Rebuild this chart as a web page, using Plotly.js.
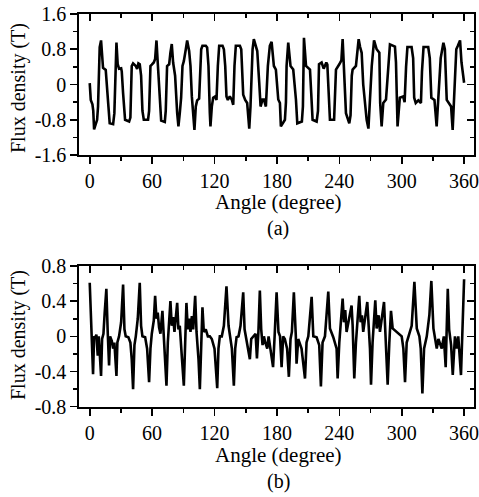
<!DOCTYPE html>
<html>
<head>
<meta charset="utf-8">
<script src="https://cdn.plot.ly/plotly-3.0.1.min.js"></script>
<style>html,body{margin:0;padding:0;background:#fff;}#chart{width:479px;height:497px;}</style>
</head>
<body>
<div id="chart"></div>
<script>
// ---- data ----
var angleA = [0,1.0,2.6,3.4,4.2,5.5,7.1,8.0,8.7,9.6,10.9,12.2,12.8,15.4,16.7,18.0,19.2,22.5,23.7,24.7,25.7,26.9,28.2,30.2,30.8,32.1,34.0,37.9,39.1,40.4,41.7,44.3,45.6,46.8,48.1,49.4,50.7,52.0,56.1,57.1,58.4,59.7,61.6,62.9,64.2,65.4,67.4,68.7,72.2,73.1,74.4,76.4,77.6,78.9,80.2,82.1,84.1,85.3,86.6,87.9,89.2,90.5,92.4,93.7,95.6,96.9,98.2,99.5,100.7,102.0,103.3,105.2,107.2,108.4,111.6,112.9,114.2,115.5,116.1,117.4,118.7,120.6,121.9,123.2,124.5,127.7,129.0,130.3,131.5,132.8,134.7,136.7,138.0,139.2,140.5,144.4,145.7,147.6,149.5,151.4,153.4,154.6,156.6,157.8,159.8,161.1,163.0,164.3,166.2,167.5,169.4,171.3,173.2,174.9,177.1,179.0,181.3,182.9,183.8,186.0,187.7,188.7,189.3,190.9,193.1,195.7,197.0,198.3,199.6,204.0,205.0,206.0,208.0,209.5,211.8,213.0,214.3,218.2,219.5,220.5,223.0,225.0,227.5,228.5,230.0,231.0,235.0,235.8,236.8,240.0,242.0,243.2,244.5,246.4,249.6,250.8,252.0,252.8,256.0,257.5,258.6,260.0,261.5,263.0,264.7,266.3,268.0,269.6,271.2,273.4,275.9,278.5,279.3,280.7,282.3,284.9,287.1,288.7,293.5,294.5,296.0,298.2,301.4,302.8,304.2,305.5,309.5,311.0,312.0,313.5,316.0,318.5,319.5,321.0,325.5,327.0,328.5,331.5,333.6,335.0,337.5,340.1,341.5,343.3,345.0,347.5,349.0,350.5,352.5,354.0,356.1,357.5,360];
var fluxA = [0.03,-0.35,-0.45,-0.6,-1.02,-0.92,-0.8,-0.5,0.4,0.85,1.0,0.65,0.38,0.33,0.0,-0.5,-0.88,-0.9,-0.65,0.55,0.95,0.46,0.36,0.37,0.3,-0.2,-0.8,-0.84,-0.75,0.42,0.48,0.42,0.35,0.48,0.46,0.2,-0.6,-0.8,-0.8,-0.6,0.42,0.45,0.5,0.58,1.0,0.5,-0.35,-0.82,-0.85,-0.6,0.42,0.46,0.72,0.92,0.5,0.2,-0.65,-0.95,-0.65,-0.3,0.42,0.53,0.8,1.0,0.76,0.42,-0.27,-0.8,-1.03,-0.5,-0.36,-0.32,0.8,0.88,0.88,0.84,0.42,-0.65,-0.95,-0.5,-0.3,-0.27,-0.35,0.42,0.88,0.88,0.8,0.42,-0.27,-0.35,-0.27,-0.35,-0.46,0.42,0.88,0.88,0.8,-0.23,-0.35,-0.42,-1.0,-0.5,0.8,1.03,0.88,0.76,0.04,-0.5,-0.34,-0.34,-0.5,0.42,0.88,0.97,0.42,0.34,-0.34,-0.42,-0.95,-0.88,-0.8,-0.4,0.42,0.95,0.42,0.34,0.0,-0.34,-0.88,-0.84,-0.5,1.06,0.42,0.38,0.34,-0.2,-0.8,-0.84,-0.6,0.46,0.5,0.36,0.5,0.45,-0.3,-0.8,-0.8,-0.3,0.34,0.46,0.55,1.03,0.4,-0.65,-0.88,-0.7,0.2,0.34,0.42,0.7,1.03,0.85,0.72,0.0,-0.42,-0.8,-1.0,-0.3,0.42,1.0,0.8,0.72,-0.42,-0.95,-0.42,-0.34,0.42,0.91,0.86,0.5,-0.95,-0.3,-0.27,-0.4,0.4,0.85,0.85,0.6,-0.3,-0.42,-0.36,-0.42,0.3,0.85,0.85,0.6,-0.3,-0.35,-0.95,-0.4,0.6,0.95,0.8,-0.35,-0.42,-0.5,-1.03,-0.3,0.8,0.88,1.0,0.5,0.04];

var angleB = [0,1.0,1.9,3.2,4.2,5.5,6.4,7.7,8.7,9.6,10.9,11.9,13.2,14.4,16.0,17.3,18.6,19.6,21.2,22.5,23.7,25.7,26.6,28.2,30.2,32.1,33.4,34.6,37.2,39.1,40.4,41.7,43.0,44.3,46.2,48.1,49.4,50.7,53.3,55.2,57.1,58.4,59.7,61.6,62.9,64.2,65.4,66.7,68.0,69.9,71.2,72.5,73.8,75.1,76.4,77.6,78.9,80.2,81.5,82.8,84.1,85.3,86.6,88.5,90.5,91.8,93.0,94.3,95.6,96.9,98.2,99.5,101.4,102.7,104.6,105.9,107.2,108.4,109.7,111.6,113.6,115.5,117.4,120.0,122.6,123.8,125.1,127.0,129.0,131.5,133.5,134.7,136.7,138.6,139.9,141.2,143.1,145.0,147.6,148.9,150.1,151.4,152.7,154.0,155.3,157.2,159.5,160.8,162.2,163.6,164.9,166.2,167.5,168.8,170.7,172.0,173.9,176.3,177.8,179.7,181.5,183.0,184.5,186.0,187.6,189.8,191.5,193.1,194.4,196.3,198.2,198.9,200.5,203.7,207.0,208.5,210.2,213.4,215.0,218.2,220.7,222.3,223.9,226.2,229.4,231.0,234.2,237.4,238.4,240.0,243.2,244.5,245.7,247.0,251.8,252.8,254.4,256.0,259.2,260.5,261.8,263.0,266.9,268.2,269.5,270.5,272.0,274.6,275.9,277.8,279.1,283.0,284.3,286.5,288.1,289.7,291.3,295.2,300.0,301.6,303.2,304.8,306.4,309.6,312.2,314.5,317.0,318.3,319.9,321.5,324.1,326.6,328.5,330.5,333.7,335.3,338.5,340.5,342.3,344.3,345.6,347.5,349.1,351.2,352.8,354.4,357.0,358.0,360];
var fluxB = [0.61,0.23,0.0,-0.43,0.0,-0.02,0.02,-0.22,0.0,-0.14,-0.45,-0.03,0.03,0.27,0.54,0.05,-0.33,0.0,-0.05,-0.14,-0.07,-0.45,-0.07,0.0,0.16,0.59,0.08,0.0,-0.01,-0.07,-0.26,-0.6,-0.1,0.0,0.2,0.61,0.12,0.0,-0.01,-0.14,-0.52,-0.14,0.03,0.18,0.46,0.2,0.27,0.1,0.03,0.29,0.05,-0.26,-0.56,-0.07,0.16,0.4,0.12,0.22,0.05,0.18,0.38,0.08,0.12,-0.22,-0.56,-0.07,0.38,0.08,0.2,0.05,0.23,0.08,0.46,0.05,-0.26,-0.6,-0.14,0.33,0.05,0.08,0.0,0.0,-0.03,-0.14,-0.59,-0.14,0.0,0.0,0.12,0.57,0.12,0.0,-0.14,-0.56,-0.14,-0.01,0.0,0.12,0.5,0.08,0.0,-0.07,-0.14,-0.26,-0.03,0.0,0.03,-0.25,0.05,0.52,0.08,-0.1,0.0,-0.07,-0.14,0.0,-0.14,-0.35,0.0,0.5,0.05,0.0,-0.35,0.0,-0.03,-0.14,-0.46,-0.03,0.05,0.5,0.0,-0.31,-0.03,-0.14,-0.48,-0.07,0.0,0.45,0.0,-0.01,-0.1,-0.57,-0.07,0.0,0.51,0.09,-0.01,-0.14,-0.48,-0.07,0.43,0.16,0.3,0.05,0.35,0.13,-0.48,-0.07,0.46,0.16,0.24,0.05,0.39,0.09,-0.14,-0.55,-0.07,0.41,0.09,0.24,0.05,0.39,0.05,-0.55,-0.07,0.29,0.09,0.05,0.0,-0.14,-0.52,-0.07,0.0,0.12,0.62,0.09,0.0,-0.14,-0.65,-0.14,0.0,0.24,0.63,0.09,-0.14,-0.03,-0.14,0.0,-0.35,0.54,0.08,-0.1,-0.44,0.0,-0.14,0.0,-0.44,0.0,0.65];

var xTicks = [0,60,120,180,240,300,360];
var xMinor = [30,90,150,210,270,330];
var yTicksA = [-1.6,-0.8,0,0.8,1.6];
var yLabelsA = ['-1.6','-0.8','0','0.8','1.6'];
var yMinorA = [-1.2,-0.4,0.4,1.2];
var yTicksB = [-0.8,-0.4,0,0.4,0.8];
var yLabelsB = ['-0.8','-0.4','0','0.4','0.8'];
var yMinorB = [-0.6,-0.2,0.2,0.6];

var FONT = 'Liberation Serif, Times New Roman, serif';
var XD = [0.1656, 0.9906];
var YDA = [0.6881, 0.9718];
var YDB = [0.1817, 0.4648];

function xax(domain, anchor, opts){
  var a = {domain: domain, anchor: anchor, range: [-10, 370], showgrid: false, zeroline: false,
    showline: true, linecolor: '#000', linewidth: 2,
    tickmode: 'array', tickvals: xTicks, ticktext: xTicks.map(String),
    ticks: 'outside', ticklen: 7, tickwidth: 1.6, tickcolor: '#000', ticklabeloverflow: 'allow',
    minor: {tickmode: 'array', tickvals: xMinor, ticks: 'outside', ticklen: 4, tickwidth: 1.6, tickcolor: '#000'},
    tickfont: {family: FONT, size: 20, color: '#000'}, fixedrange: true};
  for (var k in opts) a[k] = opts[k];
  return a;
}
function yax(domain, anchor, tv, tt, mv, rng, opts){
  var a = {domain: domain, anchor: anchor, range: rng, showgrid: false, zeroline: false,
    showline: true, linecolor: '#000', linewidth: 2,
    tickmode: 'array', tickvals: tv, ticktext: tt,
    ticks: 'outside', ticklen: 7, tickwidth: 1.6, tickcolor: '#000', ticklabeloverflow: 'allow',
    minor: {tickmode: 'array', tickvals: mv, ticks: 'outside', ticklen: 4, tickwidth: 1.6, tickcolor: '#000'},
    tickfont: {family: FONT, size: 20, color: '#000'}, fixedrange: true};
  for (var k in opts) a[k] = opts[k];
  return a;
}
function inside(){ return {ticks: 'inside', showticklabels: false,
  minor: {tickmode: 'array', ticks: 'inside', ticklen: 4, tickwidth: 1.6, tickcolor: '#000'}}; }

var lineStyle = {color: '#000', width: 2.6};
var traces = [
  {x: angleA, y: fluxA, type: 'scatter', mode: 'lines', line: lineStyle, xaxis: 'x', yaxis: 'y', hoverinfo: 'skip'},
  {x: angleB, y: fluxB, type: 'scatter', mode: 'lines', line: lineStyle, xaxis: 'x2', yaxis: 'y2', hoverinfo: 'skip'},
  {x: [null], y: [null], type: 'scatter', mode: 'lines', xaxis: 'x3', yaxis: 'y', hoverinfo: 'skip'},
  {x: [null], y: [null], type: 'scatter', mode: 'lines', xaxis: 'x', yaxis: 'y3', hoverinfo: 'skip'},
  {x: [null], y: [null], type: 'scatter', mode: 'lines', xaxis: 'x4', yaxis: 'y2', hoverinfo: 'skip'},
  {x: [null], y: [null], type: 'scatter', mode: 'lines', xaxis: 'x2', yaxis: 'y4', hoverinfo: 'skip'}
];

var in1 = inside(); in1.side = 'top'; in1.overlaying = 'x'; in1.minor.tickvals = xMinor;
var in2 = inside(); in2.side = 'right'; in2.overlaying = 'y'; in2.minor.tickvals = yMinorA;
var in3 = inside(); in3.side = 'top'; in3.overlaying = 'x2'; in3.minor.tickvals = xMinor;
var in4 = inside(); in4.side = 'right'; in4.overlaying = 'y2'; in4.minor.tickvals = yMinorB;

function ann(text, x, y, size, angle){
  return {text: text, xref: 'paper', yref: 'paper', x: x, y: y, xanchor: 'center', yanchor: 'middle',
    showarrow: false, textangle: angle || 0, borderpad: 0, font: {family: FONT, size: size, color: '#000'}};
}

var layout = {
  width: 479, height: 497, margin: {l: 0, r: 0, t: 0, b: 0},
  paper_bgcolor: '#fff', plot_bgcolor: '#fff', showlegend: false,
  xaxis: xax(XD, 'y', {}),
  yaxis: yax(YDA, 'x', yTicksA, yLabelsA, yMinorA, [-1.6, 1.6], {}),
  xaxis2: xax(XD, 'y2', {}),
  yaxis2: yax(YDB, 'x2', yTicksB, yLabelsB, yMinorB, [-0.8, 0.8], {}),
  xaxis3: xax(XD, 'y', in1),
  yaxis3: yax(YDA, 'x', yTicksA, yLabelsA, yMinorA, [-1.6, 1.6], in2),
  xaxis4: xax(XD, 'y2', in3),
  yaxis4: yax(YDB, 'x2', yTicksB, yLabelsB, yMinorB, [-0.8, 0.8], in4),
  annotations: [
    ann('Flux density (T)', 18/479, 1 - 88/497, 20, -90),
    ann('Angle (degree)', 278/479, 1 - 202/497, 21),
    ann('(a)', 278/479, 1 - 228/497, 20),
    ann('Flux density (T)', 18/479, 1 - 335/497, 20, -90),
    ann('Angle (degree)', 278/479, 1 - 455/497, 21),
    ann('(b)', 278/479, 1 - 481/497, 20)
  ]
};

Plotly.newPlot('chart', traces, layout, {displayModeBar: false, staticPlot: true});
</script>
</body>
</html>
